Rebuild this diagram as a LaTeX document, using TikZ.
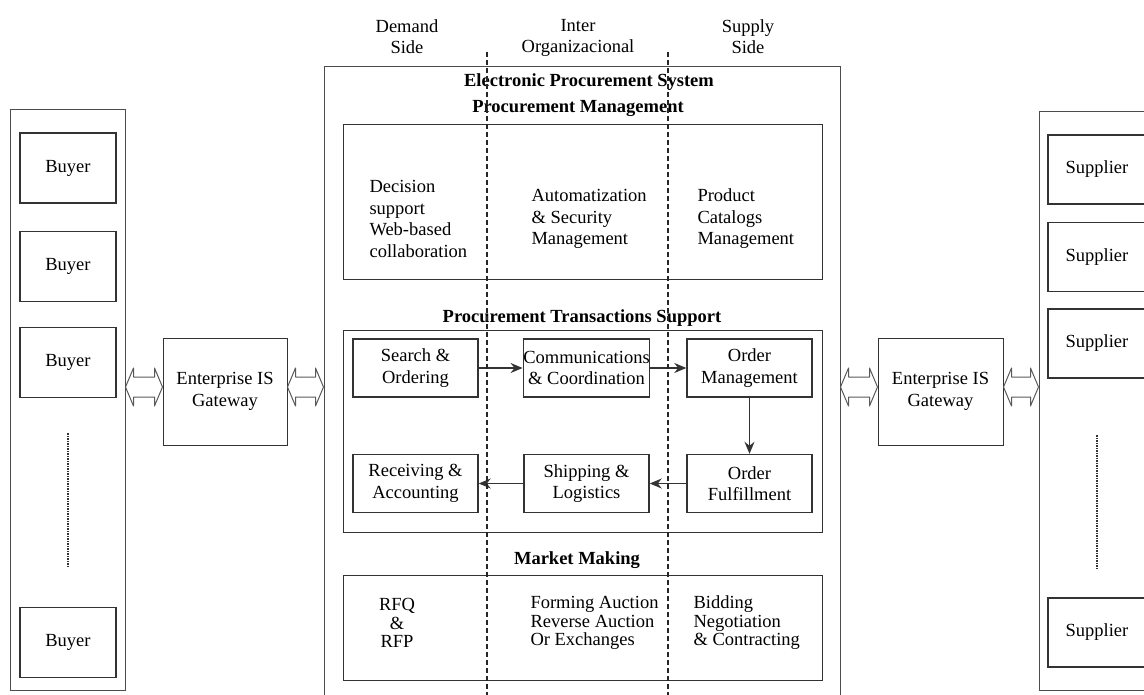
\documentclass[tikz,border=0pt]{standalone}
\usepackage{fontspec}
\setmainfont{Liberation Serif}
\usetikzlibrary{arrows.meta,calc}

\begin{document}
\begin{tikzpicture}[x=1pt,y=-1pt,
		font=\fontsize{18.5}{21.5}\selectfont,
		box/.style={draw=black!80,line width=1.4pt,rectangle,inner sep=0pt,align=center},
		frame/.style={draw=black!70,line width=1pt,rectangle,inner sep=0pt},
		title/.style={font=\fontsize{18.5}{21.5}\selectfont\bfseries},
		side/.style={align=center,anchor=north,inner sep=0pt},
		flow/.style={draw=black!80,line width=1.4pt,-{Stealth[length=12pt,width=10pt]}},
		hollow/.style={draw=black!65,line width=1pt,line join=round},
		border/.style={draw=black!85,line width=1.4pt,dash pattern=on 5pt off 3pt}]
		
		\useasboundingbox (0,0) rectangle (1144,695);
		
		%buyers
		\node[frame,minimum width=115,minimum height=580] (buyers) at (67.5,400) {};
		\foreach \nr/\ypos in {A/168,B/266.5,C/362.5,D/642.5}
		\node[box,minimum width=96,minimum height=70] (buy\nr) at (68,\ypos) {Buyer};
		\draw[black!80,line width=1.5pt,densely dotted] (buyC.south |- 0,433) -- (buyD.north |- 0,568);
		
		%suppliers
		\node[frame,minimum width=121,minimum height=578] (suppliers) at (1099.5,401) {};
		\foreach \nr/\ypos in {A/169.5,B/257,C/343.5,D/632.5}
		\node[box,minimum width=98,minimum height=69] (sup\nr) at (1097,\ypos) {Supplier};
		\draw[black!80,line width=1.5pt,densely dotted] (supC.south |- 0,435) -- (supD.north |- 0,569);
		
		%gateways
		\node[box,line width=1pt,minimum width=124,minimum height=107] (gwL) at (225,391.5) {Enterprise IS\\Gateway};
		\node[box,line width=1pt,minimum width=125,minimum height=107] (gwR) at (940.5,391.5) {Enterprise IS\\Gateway};
		
		%system
		\node[frame,minimum width=516,minimum height=633] (eps) at (582,383.5) {};
		\node[title] (epsT) at (589,82) {Electronic Procurement System};
		
		\node[side] (demand) at (407,19) {Demand\\Side};
		\node[side] (inter) at (578,19) {Inter\\Organizacional};
		\node[side] (supply) at (748,19) {Supply\\Side};
		
		%procurement management
		\node[title] (pmT) at (578,108) {Procurement Management};
		\node[box,line width=1pt,minimum width=479,minimum height=155] (pm) at (582.5,202.5) {};
		\node[anchor=west,align=left] (pm1) at (366,219) {Decision\\support\\Web-based\\collaboration};
		\node[anchor=west,align=left] (pm2) at (528,219) {Automatization\\\& Security\\Management};
		\node[anchor=west,align=left] (pm3) at (694,219) {Product\\Catalogs\\Management};
		
		%transactions
		\node[title] (ptsT) at (582,318) {Procurement Transactions Support};
		\node[box,line width=1pt,minimum width=479,minimum height=202] (pts) at (582.5,431) {};
		\node[box,minimum width=125,minimum height=58] (srch) at (415.5,368) {Search \&\\Ordering};
		\node[box,minimum width=125,minimum height=58] (comm) at (586.5,368) {Communications\\\& Coordination};
		\node[box,minimum width=125,minimum height=58] (omgt) at (749.5,368) {Order\\Management};
		\node[box,minimum width=125,minimum height=58] (recv) at (415.5,483.5) {Receiving \&\\Accounting};
		\node[box,minimum width=125,minimum height=58] (ship) at (586.5,483.5) {Shipping \&\\Logistics};
		\node[box,minimum width=125,minimum height=58] (ofull) at (749.5,483.5) {Order\\Fulfillment};
		
		\draw[flow] (srch) -- (comm);
		\draw[flow] (comm) -- (omgt);
		\draw[flow] (omgt) -- (ofull);
		\draw[flow] (ofull) -- (ship);
		\draw[flow] (ship) -- (recv);
		
		%market making
		\node[title] (mmT) at (577,560) {Market Making};
		\node[box,line width=1pt,minimum width=479,minimum height=105] (mm) at (582.5,627.5) {};
		\begin{scope}[font=\fontsize{18.5}{18.5}\selectfont]
			\node[align=center] (mm1) at (397,623) {RFQ\\\&\\RFP};
			\node[anchor=west,align=left] (mm2) at (527,623) {Forming Auction\\Reverse Auction\\Or Exchanges};
			\node[anchor=west,align=left] (mm3) at (690,623) {Bidding\\Negotiation\\\& Contracting};
		\end{scope}
		
		%sides
		\draw[border] (487,52) -- (487,695);
		\draw[border] (668,52) -- (668,695);
		
		%links
		\foreach \a/\b in {buyers.east/gwL.west,gwL.east/eps.west,eps.east/gwR.west,gwR.east/suppliers.west}
		\draw[hollow] ($(\a |- gwL.center)+(0,-4.5)$) -- ($(\a |- gwL.center)+(8,-23.5)$) -- ($(\a |- gwL.center)+(8,-14.5)$)
		-- ($(\b |- gwL.center)+(-8,-14.5)$) -- ($(\b |- gwL.center)+(-8,-23.5)$) -- ($(\b |- gwL.center)+(0,-4.5)$)
		-- ($(\b |- gwL.center)+(-8,14.5)$) -- ($(\b |- gwL.center)+(-8,5.5)$) -- ($(\a |- gwL.center)+(8,5.5)$)
		-- ($(\a |- gwL.center)+(8,14.5)$) -- cycle;
		
	\end{tikzpicture}
\end{document}
